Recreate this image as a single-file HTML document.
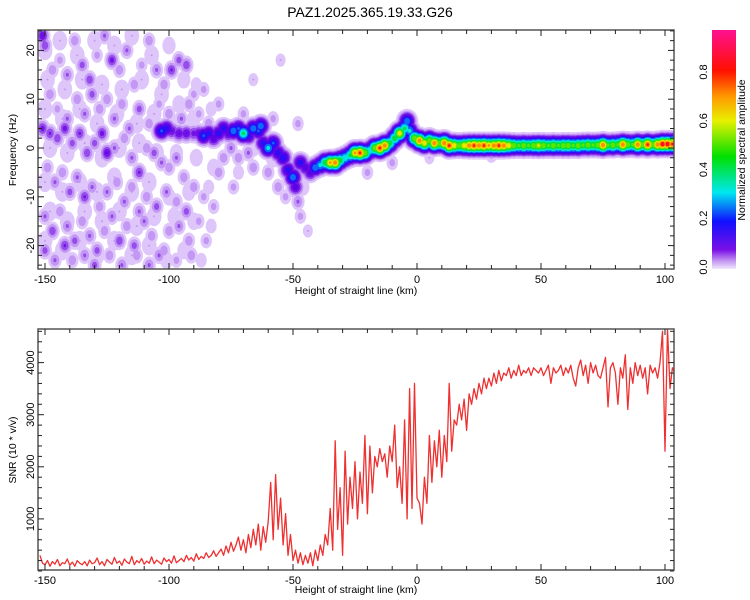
<!DOCTYPE html>
<html><head><meta charset="utf-8"><style>
html,body{margin:0;padding:0;background:#fff;}
svg{display:block;font-family:"Liberation Sans",sans-serif;}
</style></head><body>
<svg id="chart" width="750" height="600" viewBox="0 0 750 600">
<defs>
<linearGradient id="cbgrad" x1="0" y1="1" x2="0" y2="0">
<stop offset="0" stop-color="#f0e6fc"/><stop offset="0.03" stop-color="#c9a0f3"/><stop offset="0.08" stop-color="#7a10e6"/>
<stop offset="0.2" stop-color="#1010ff"/><stop offset="0.32" stop-color="#00e8f0"/><stop offset="0.47" stop-color="#00e000"/>
<stop offset="0.62" stop-color="#e8f000"/><stop offset="0.72" stop-color="#ff9a00"/><stop offset="0.83" stop-color="#ff1000"/>
<stop offset="1" stop-color="#ff1090"/></linearGradient>
<clipPath id="clipTop"><rect x="38" y="30" width="636" height="239"/></clipPath>
<clipPath id="clipBot"><rect x="38" y="329" width="636" height="241"/></clipPath>
</defs>
<text x="370" y="17" font-size="14" text-anchor="middle">PAZ1.2025.365.19.33.G26</text>
<g id="heat" clip-path="url(#clipTop)"></g>
<g id="topaxes"></g>
<g id="snr" clip-path="url(#clipBot)"></g>
<g id="botaxes"></g>
<rect x="712" y="30" width="24" height="239" fill="url(#cbgrad)"/>
<g id="cbaxis"></g>
<text transform="translate(745,150) rotate(-90)" font-size="10.5" text-anchor="middle">Normalized spectral amplitude</text>
<text x="356" y="294" font-size="10.5" text-anchor="middle">Height of straight line (km)</text>
<text x="356" y="593" font-size="10.5" text-anchor="middle">Height of straight line (km)</text>
<text transform="translate(16,150) rotate(-90)" font-size="10.5" text-anchor="middle">Frequency (Hz)</text>
<text transform="translate(16,450) rotate(-90)" font-size="10.5" text-anchor="middle">SNR (10 * v/v)</text>
</svg>
<script>
// ---- data ----
const xTicks = [-150, -100, -50, 0, 50, 100];
const freqTicks = [-20, -10, 0, 10, 20];
const snrTicks = [1000, 2000, 3000, 4000];
const cbTicks = [0.0, 0.2, 0.4, 0.6, 0.8];
// ridge blobs: [height km, frequency Hz, amplitude]
const ridgeBlobs = [
[-103,3.5,0.25],[-101,4,0.2],[-99,3.5,0.12],[-96,3,0.12],[-93,3,0.12],[-90,3,0.1],[-88,3,0.12],[-86,2.5,0.25],[-84,3,0.2],[-82,2,0.15],
[-80,3,0.2],[-78,4,0.2],[-76,3,0.15],[-74,3.5,0.3],[-72,4,0.25],[-70,3,0.45],[-68,2.5,0.2],[-66,4,0.3],[-64,3.5,0.25],[-63,4.5,0.3],
[-62,1,0.2],[-60,0,0.35],[-58,1,0.25],[-56,-1,0.2],[-54,-2,0.22],[-52,-4.5,0.2],[-50,-6,0.3],[-49,-8,0.15],[-47,-3,0.2],[-45,-4,0.15],
[-43,-5,0.15],[-41,-4,0.3],[-39,-3.5,0.35],[-37,-3,0.5],[-35,-3,0.75],[-33,-3,0.8],[-31,-2.5,0.5],[-29,-2,0.4],[-27,-1.5,0.45],[-25,-1,0.75],
[-23,-1,0.85],[-21,-1,0.6],[-19,-0.5,0.4],[-17,0,0.6],[-15,0,0.85],[-13,0.5,0.8],[-11,1,0.5],[-9,2,0.5],[-7,3,0.7],[-5,4,0.45],
[-4,5.5,0.3],[-3,3.5,0.35],[-1,2,0.6],[1,1.5,0.8],[3,1,0.7],[5,1.5,0.6],[7,1,0.8],[9,1,0.6],[11,1,0.8],[13,0.5,0.85],
[15,0.5,0.7],[17,0.5,0.6],[19,0.5,0.7],[21,0.5,0.8],[23,0.5,0.85],[25,0.5,0.8],[27,0.5,0.85],[29,0.5,0.75],[31,0.5,0.8],[33,0.5,0.85],
[35,0.5,0.8],[37,0.5,0.7],[39,0.5,0.6],[41,0.5,0.55],[43,0.5,0.6],[45,0.5,0.55],[47,0.5,0.6],[49,0.5,0.65],[51,0.5,0.6],[53,0.5,0.55],
[55,0.5,0.6],[57,0.5,0.55],[59,0.5,0.6],[61,0.5,0.6],[63,0.5,0.55],[65,0.5,0.6],[67,0.6,0.55],[69,0.6,0.6],[71,0.6,0.55],[73,0.6,0.6],
[75,0.6,0.8],[77,0.6,0.55],[79,0.6,0.6],[81,0.7,0.55],[83,0.7,0.8],[85,0.7,0.6],[87,0.7,0.55],[89,0.7,0.8],[91,0.7,0.6],[93,0.7,0.85],
[95,0.7,0.6],[97,0.7,0.8],[99,0.8,0.9],[101,0.8,0.9],[103,0.8,0.85]];
// scattered noise blobs: [height km, frequency Hz, amplitude]
const noiseBlobs = [
[-151,23,0.12],[-150,21,0.08],[-147,16,0.05],[-144,18,0.04],[-141,15,0.06],[-138,22,0.05],[-135,17,0.07],[-132,14,0.08],[-129,19,0.04],[-126,23,0.06],
[-123,18,0.1],[-120,16,0.05],[-117,20,0.06],[-114,13,0.05],[-111,17,0.04],[-108,22,0.05],[-105,16,0.06],[-102,13,0.05],[-99,16,0.09],[-96,18,0.07],
[-93,17,0.08],[-90,11,0.04],[-148,11,0.05],[-145,8,0.04],[-141,6,0.06],[-137,10,0.05],[-134,7,0.06],[-131,11,0.07],[-128,8,0.05],[-125,10,0.05],
[-122,6,0.06],[-119,9,0.05],[-116,4,0.06],[-112,8,0.07],[-108,5,0.05],[-104,9,0.04],[-100,7,0.05],[-95,6,0.06],[-92,9,0.05],[-88,7,0.04],
[-151,4,0.1],[-148,3,0.09],[-145,2,0.08],[-142,4,0.1],[-139,1,0.07],[-136,3,0.09],[-133,-1,0.08],[-130,1,0.07],[-127,3,0.1],[-125,-1,0.12],
[-122,0,0.06],[-118,2,0.05],[-115,-2,0.06],[-112,-5,0.09],[-109,0,0.05],[-106,-1,0.07],[-103,-3,0.06],[-100,-4,0.05],[-97,-2,0.06],[-94,-6,0.05],
[-149,-4,0.05],[-146,-7,0.06],[-143,-5,0.05],[-140,-9,0.07],[-137,-6,0.06],[-134,-10,0.09],[-131,-8,0.06],[-128,-12,0.05],[-125,-9,0.06],[-121,-7,0.05],
[-118,-11,0.06],[-115,-8,0.05],[-112,-13,0.06],[-109,-10,0.05],[-105,-12,0.07],[-101,-9,0.06],[-97,-11,0.05],[-93,-13,0.07],[-90,-8,0.05],[-86,-10,0.04],
[-150,-14,0.06],[-147,-17,0.08],[-144,-13,0.05],[-141,-16,0.06],[-138,-19,0.07],[-135,-15,0.05],[-132,-18,0.06],[-129,-21,0.07],[-126,-17,0.05],[-123,-14,0.06],
[-120,-19,0.08],[-117,-16,0.05],[-114,-20,0.07],[-110,-15,0.06],[-107,-18,0.05],[-104,-22,0.06],[-100,-17,0.05],[-96,-16,0.06],[-92,-19,0.05],[-88,-15,0.04],
[-150,-21,0.07],[-146,-23,0.06],[-142,-20,0.09],[-139,-23,0.05],[-134,-22,0.06],[-130,-24,0.07],[-124,-22,0.05],[-119,-24,0.06],[-113,-22,0.05],[-108,-24,0.06],
[-102,-21,0.05],[-97,-23,0.04],[-91,-22,0.05],[-85,-19,0.04],[-82,-12,0.04],[-80,-5,0.05],[-84,5,0.05],[-86,12,0.04],[-80,9,0.04],[-78,-2,0.05],
[-75,0,0.06],[-72,-2,0.05],[-68,-1,0.06],[-66,-4,0.05],[-70,7,0.04],[-74,-8,0.04],[-60,-5,0.05],[-56,-8,0.05],[-58,6,0.04],[-53,-10,0.04],
[-48,-11,0.06],[-47,-14,0.04],[-44,-17,0.03],[-66,14,0.03],[-55,18,0.03],[-48,5,0.04],[-20,-5,0.04],[-10,-3,0.04],[5,-2,0.03],[30,-1.5,0.04]];
// faint haze blobs (broad, low amplitude): [height km, frequency Hz, amplitude]
const hazeBlobs = [
[-150,20,0.03],[-144,22,0.03],[-137,19,0.03],[-130,22,0.03],[-122,21,0.03],[-115,23,0.03],[-107,19,0.03],[-100,21,0.025],[-94,14,0.025],
[-149,14,0.03],[-142,12,0.03],[-135,14,0.03],[-127,13,0.03],[-119,12,0.03],[-111,14,0.03],[-103,11,0.03],[-96,9,0.025],[-89,13,0.02],
[-150,8,0.03],[-143,6,0.03],[-136,8,0.03],[-129,5,0.03],[-121,7,0.03],[-113,5,0.03],[-106,7,0.03],[-98,5,0.025],[-90,6,0.025],[-83,8,0.02],
[-148,0,0.03],[-141,-1,0.03],[-134,1,0.03],[-127,-2,0.03],[-120,0,0.03],[-112,1,0.03],[-105,-1,0.03],[-97,-1,0.025],[-89,-2,0.025],[-82,-4,0.025],
[-150,-7,0.03],[-143,-9,0.03],[-136,-7,0.03],[-129,-9,0.03],[-122,-6,0.03],[-115,-9,0.03],[-108,-7,0.03],[-100,-10,0.025],[-92,-9,0.025],[-84,-8,0.02],
[-148,-13,0.03],[-141,-15,0.03],[-134,-13,0.03],[-127,-15,0.03],[-120,-13,0.03],[-113,-16,0.03],[-106,-14,0.03],[-98,-14,0.025],[-90,-15,0.025],[-83,-16,0.02],
[-150,-19,0.03],[-143,-21,0.03],[-136,-19,0.03],[-129,-22,0.03],[-122,-19,0.03],[-115,-22,0.03],[-108,-20,0.03],[-101,-23,0.025],[-94,-21,0.025],[-87,-23,0.02],
[-76,4,0.025],[-66,0,0.025],[-58,-2,0.03],[-52,-5,0.03],[-46,-8,0.025],[-62,5,0.025],[-72,-5,0.02]];
// SNR series: values at 1 km steps starting at snrStartKm
const snrStartKm = -152;
const snrValues = [
300,150,120,200,90,180,130,220,100,160,140,230,110,170,90,200,150,120,180,100,
210,140,160,250,120,180,100,220,170,130,260,150,190,110,230,170,140,280,120,200,
160,240,130,190,150,270,140,210,170,130,250,180,220,150,290,160,200,240,180,300,
210,260,190,330,220,280,240,350,260,300,390,280,350,
420,300,480,350,550,380,500,650,400,600,350,700,450,800,500,900,400,850,550,950,
1700,600,1850,800,1400,500,1100,300,700,200,400,150,350,120,300,150,350,100,400,200,
500,300,700,500,1200,400,2500,800,1600,300,2300,900,1800,1200,2100,1000,1900,1300,2600,1100,
2400,1500,2200,2000,2350,2100,2250,1800,2400,2100,2800,1600,2000,1300,2900,1000,3500,1200,3600,1400,
1300,900,1800,1300,2600,1700,2500,2000,2700,1800,2600,2100,3600,2300,2900,2800,3200,2900,3300,2700,
3400,3200,3500,3300,3600,3400,3700,3500,3700,3550,3800,3600,3850,3650,3800,3750,3900,3700,3850,3750,
3950,3750,3850,3800,3900,3750,3900,3850,3800,3900,3750,3850,3950,3600,3900,3800,3850,3950,3750,3900,
3800,3950,3700,3550,3900,4050,3750,3950,3600,4000,3800,3950,3750,3700,3900,4100,3150,3900,4000,3800,
3200,3900,3700,4150,3100,3900,3600,4000,3750,3950,3700,3900,3400,3950,3800,3900,3700,4000,4600,2300,
4650,3500,3900,3800];

// ---- scales ----
const X0=38, X1=674;
const xs = v => 45 + (v+150)*2.48;
const TY0=30, TY1=269, FMIN=-24.8, FMAX=24.1;
const fy = f => 148 - f*4.88;
const BY0=329, BY1=570;
const sy = s => 571 - s*0.0521;
const cby = c => 267 - c*243.75;
const NS='http://www.w3.org/2000/svg';
function mk(tag, attrs, parent){const e=document.createElementNS(NS,tag);for(const k in attrs)e.setAttribute(k,attrs[k]);parent.appendChild(e);return e;}

const cmStops=[[0,[244,234,254]],[0.03,[215,185,248]],[0.055,[165,100,238]],[0.085,[120,25,230]],[0.12,[100,0,228]],[0.2,[20,20,255]],[0.32,[0,232,240]],[0.47,[0,224,0]],[0.62,[232,240,0]],[0.72,[255,154,0]],[0.83,[255,16,0]],[1,[255,16,144]]];
function cmap(v){for(let i=1;i<cmStops.length;i++){if(v<=cmStops[i][0]){const a=cmStops[i-1],b=cmStops[i];const t=(v-a[0])/(b[0]-a[0]);return 'rgb('+a[1].map((c,j)=>Math.round(c+(b[1][j]-c)*t)).join(',')+')';}}return 'rgb(255,16,144)';}

// ---- heatmap ----
const heat=document.getElementById('heat');
const levels=[0.012,0.03,0.055,0.085,0.12,0.17,0.24,0.32,0.42,0.52,0.62,0.72,0.82,0.9];
const allBlobs=[];
hazeBlobs.forEach(b=>allBlobs.push({x:b[0],f:b[1],a:b[2],sx:2.2,sf:1.5,kind:'haze'}));
noiseBlobs.forEach(b=>allBlobs.push({x:b[0],f:b[1],a:b[2],sx:1.5,sf:1.0,kind:'noise'}));
ridgeBlobs.forEach(b=>allBlobs.push({x:b[0],f:b[1],a:b[2],sx:1.8,sf:1.0,kind:'ridge'}));
levels.forEach((l)=>{
  allBlobs.forEach(b=>{
    if(b.a<l) return;
    const k=Math.sqrt(2*Math.log(b.a/l));
    const e=mk('ellipse',{cx:xs(b.x),cy:fy(b.f),rx:Math.max(1,b.sx*k*2.48),ry:Math.max(1,b.sf*k*4.88),fill:cmap(l+0.01)},heat);
    
    
  });
});

// ---- axes helper ----
function frame(g,y0,y1,yTicksMajor,yLabelFn,yMinorStep,yMin,yMax,yScale,name){
  const r=mk('rect',{x:X0,y:y0,width:X1-X0,height:y1-y0,fill:'none',stroke:'#555','stroke-width':1.5},g);
  
  
  for(let v=-150;v<=100;v+=10){
    const x=xs(v), maj=(v%50===0), L=maj?6:4;
    mk('line',{x1:x,y1:y1,x2:x,y2:y1-L,stroke:'#222','stroke-width':1},g);
    mk('line',{x1:x,y1:y0,x2:x,y2:y0+L,stroke:'#222','stroke-width':1},g);
  }
  xTicks.forEach(v=>{
    const t=mk('text',{x:xs(v),y:y1+14,'font-size':11,'text-anchor':'middle'},g);
    t.textContent=v;
    
    
  });
  for(let v=Math.ceil(yMin/yMinorStep)*yMinorStep; v<=yMax; v+=yMinorStep){
    const y=yScale(v); const maj=yTicksMajor.includes(v); const L=maj?6:4;
    mk('line',{x1:X0,y1:y,x2:X0+L,y2:y,stroke:'#222','stroke-width':1},g);
    mk('line',{x1:X1,y1:y,x2:X1-L,y2:y,stroke:'#222','stroke-width':1},g);
  }
  yTicksMajor.forEach(v=>{
    const y=yScale(v);
    const t=mk('text',{transform:'translate(34,'+y+') rotate(-90)','font-size':11,'text-anchor':'middle'},g);
    t.textContent=yLabelFn(v);
    
    
  });
}
frame(document.getElementById('topaxes'),TY0,TY1,freqTicks,v=>v,2,FMIN,FMAX,fy,'top');

// ---- SNR line ----
const snrG=document.getElementById('snr');
const pts=snrValues.map((v,i)=>xs(snrStartKm+i).toFixed(1)+','+sy(v).toFixed(1)).join(' ');
const pl=mk('polyline',{points:pts,fill:'none',stroke:'#ee3030','stroke-width':1.3,'stroke-linejoin':'round'},snrG);


frame(document.getElementById('botaxes'),BY0,BY1,snrTicks,v=>v,200,0,4640,sy,'bottom');

// ---- colorbar axis ----
const cb=document.getElementById('cbaxis');
cbTicks.forEach(c=>{
  const y=cby(c);
  const t=mk('text',{transform:'translate(707,'+y+') rotate(-90)','font-size':11,'text-anchor':'middle'},cb);
  t.textContent=c.toFixed(1);
  
  
});
</script>
</body></html>
